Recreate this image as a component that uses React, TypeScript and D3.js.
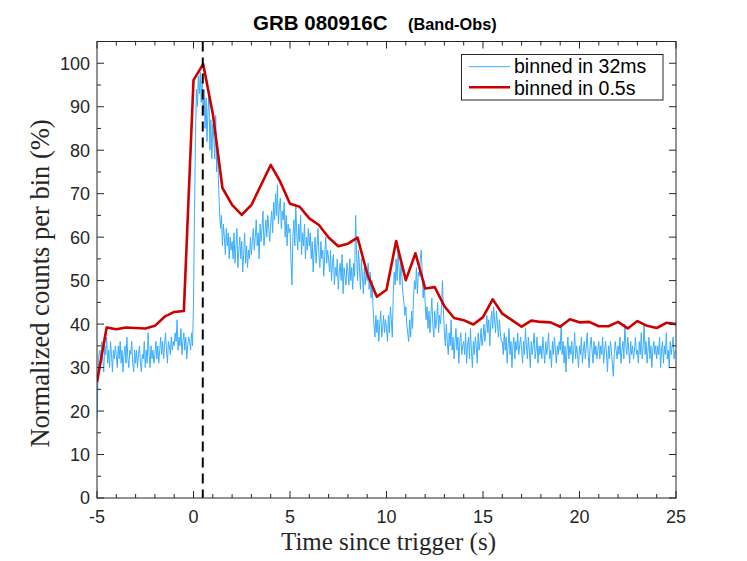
import * as d3 from "d3";
import React from "react";

// 0.5 s bins, one value every half second from -5 s to 25 s
const coarseStart = -5;
const coarseStep = 0.5;
const coarseCounts = [
  26.7, 39.2, 38.8, 39.2, 39.1, 39.0, 39.6, 41.7, 42.8, 43.0,
  96.1, 99.8, 88.4, 71.3, 67.4, 65.1, 67.4, 72.0, 76.6, 72.7,
  67.7, 67.0, 64.3, 62.8, 59.9, 57.9, 58.5, 59.9, 51.6, 46.3,
  47.9, 59.1, 50.1, 56.3, 48.2, 48.5, 44.1, 41.4, 40.9, 39.9,
  41.6, 45.7, 42.4, 40.9, 39.4, 40.8, 40.5, 40.4, 39.4, 41.1,
  40.4, 40.5, 39.5, 39.5, 40.5, 39.0, 40.7, 39.6, 39.1, 40.3,
  40.0,
];

// fine light curve, one row per second
const fineStart = -5;
const fineStep = 0.05;
const fineCounts = [
  18, 27, 33, 34, 31, 36, 32, 29, 35, 33, 37, 31, 34, 30, 36, 33, 29, 34, 32, 35,
  33, 30, 35, 32, 36, 31, 34, 29, 33, 35, 31, 37, 32, 30, 34, 33, 36, 31, 29, 34,
  31, 34, 30, 33, 35, 31, 29, 33, 32, 36, 30, 34, 31, 38, 33, 30, 35, 32, 34, 31,
  33, 36, 32, 35, 31, 34, 37, 33, 36, 32, 35, 38, 34, 31, 36, 35, 33, 37, 34, 36,
  35, 38, 36, 41, 34, 37, 35, 39, 33, 36, 38, 34, 37, 32, 35, 37, 36, 34, 38, 35,
  45, 65, 82, 94, 90, 97, 93, 98, 91, 96, 88, 94, 85, 92, 82, 89, 93, 80, 87, 78,
  86, 83, 78, 88, 75, 80, 72, 66, 62, 65, 58, 63, 60, 56, 62, 58, 61, 55, 60, 57,
  59, 55, 61, 54, 58, 62, 53, 57, 60, 55, 59, 52, 56, 61, 54, 58, 53, 57, 55, 60,
  56, 59, 62, 57, 60, 64, 58, 61, 55, 63, 59, 62, 66, 58, 61, 64, 60, 65, 62, 59,
  63, 66, 61, 68, 64, 70, 65, 72, 63, 67, 69, 62, 66, 64, 68, 60, 65, 58, 63, 61,
  62, 55, 49, 60, 64, 58, 67, 61, 57, 63, 59, 65, 56, 61, 58, 63, 55, 60, 57, 62,
  58, 61, 55, 59, 52, 57, 60, 54, 58, 62, 56, 53, 59, 55, 57, 51, 56, 60, 54, 57,
  55, 52, 57, 50, 54, 56, 49, 53, 51, 55, 48, 52, 54, 50, 56, 47, 53, 51, 49, 54,
  52, 49, 55, 50, 53, 48, 54, 51, 65, 56, 50, 57, 53, 48, 55, 51, 47, 53, 49, 52,
  50, 54, 48, 52, 46, 50, 44, 40, 37, 42, 38, 41, 36, 40, 43, 37, 39, 42, 38, 41,
  39, 36, 42, 38, 44, 41, 37, 47, 52, 49, 55, 50, 57, 53, 49, 54, 51, 47, 45, 42,
  44, 40, 38, 36, 41, 37, 43, 39, 46, 50, 48, 53, 47, 52, 51, 55, 57, 52, 46, 50,
  45, 41, 44, 39, 43, 38, 42, 46, 40, 37, 43, 39, 41, 45, 38, 42, 40, 44, 50, 43,
  38, 35, 40, 36, 33, 38, 35, 41, 34, 37, 32, 36, 39, 34, 37, 31, 36, 38, 33, 35,
  36, 33, 38, 31, 35, 37, 32, 39, 34, 30, 36, 33, 37, 35, 31, 38, 34, 36, 39, 35,
  37, 40, 36, 39, 42, 38, 41, 35, 40, 43, 39, 44, 41, 38, 43, 40, 37, 41, 38, 36,
  36, 33, 38, 34, 37, 31, 35, 39, 33, 36, 30, 35, 37, 32, 36, 34, 38, 33, 35, 37,
  34, 31, 36, 33, 39, 35, 32, 37, 34, 30, 36, 33, 35, 38, 32, 34, 37, 31, 35, 33,
  35, 32, 37, 34, 31, 36, 33, 35, 38, 32, 34, 30, 36, 33, 37, 34, 31, 35, 33, 36,
  34, 40, 33, 36, 31, 35, 29, 34, 37, 32, 35, 33, 36, 31, 34, 38, 32, 35, 33, 30,
  35, 33, 37, 31, 34, 36, 32, 35, 38, 33, 30, 35, 37, 34, 31, 36, 33, 35, 32, 34,
  36, 32, 35, 33, 37, 31, 34, 36, 33, 29, 35, 32, 36, 34, 31, 28, 33, 36, 34, 32,
  35, 33, 37, 31, 34, 36, 32, 40, 35, 33, 37, 34, 31, 36, 33, 35, 32, 34, 37, 33,
  34, 31, 36, 33, 38, 32, 35, 40, 33, 36, 31, 34, 37, 32, 35, 30, 34, 36, 33, 35,
  32, 35, 33, 37, 30, 34, 36, 31, 35, 33, 38, 32, 34, 30, 36, 33, 35, 37, 32, 34,
];

const triggerPeak = 0.48;
const xTicks = [-5, 0, 5, 10, 15, 20, 25];
const yTicks = [0, 10, 20, 30, 40, 50, 60, 70, 80, 90, 100];
const legendLabels = ["binned in 32ms", "binned in 0.5s"];

const W = 747;
const H = 561;
const left = 97;
const right = 676;
const top = 41.5;
const bottom = 498;

const blue = "#3aadff";
const red = "#cc0000";
const axisColor = "#262626";
const sans = "'Liberation Sans', Arial, Helvetica, sans-serif";
const serif = "'Liberation Serif', 'Times New Roman', serif";

export default function App() {
  const x = d3.scaleLinear().domain([-5, 25]).range([left, right]);
  const y = d3.scaleLinear().domain([0, 105]).range([bottom, top]);

  const finePath = d3
    .line<number>()
    .x((_, i) => x(fineStart + i * fineStep))
    .y((d) => y(d))(fineCounts);
  const coarsePath = d3
    .line<number>()
    .x((_, i) => x(coarseStart + i * coarseStep))
    .y((d) => y(d))(coarseCounts);

  const xMinor = d3.range(-5, 25.01, 1);
  const yMinor = d3.range(0, 105.01, 5);

  return (
    <svg width={W} height={H} style={{ position: "absolute", left: 0, top: 0, background: "#fff" }}>
      <rect width={W} height={H} fill="#fff" />
      <defs>
        <clipPath id="plot">
          <rect x={left} y={top} width={right - left} height={bottom - top} />
        </clipPath>
      </defs>

      <g clipPath="url(#plot)">
        <path d={finePath!} fill="none" stroke={blue} strokeWidth={1} strokeLinejoin="round" />
        <path d={coarsePath!} fill="none" stroke={red} strokeWidth={2.6} strokeLinejoin="round" />
        <line
          x1={x(triggerPeak)}
          x2={x(triggerPeak)}
          y1={top}
          y2={bottom}
          stroke="#000"
          strokeWidth={2}
          strokeDasharray="10,6"
        />
      </g>

      {/* ticks, pointing inward on all four sides */}
      <g stroke={axisColor} strokeWidth={1}>
        {xMinor.map((t) => {
          const major = t % 5 === 0;
          const len = major ? 7 : 4;
          return (
            <g key={"xt" + t}>
              <line x1={x(t)} x2={x(t)} y1={bottom} y2={bottom - len} />
              <line x1={x(t)} x2={x(t)} y1={top} y2={top + len} />
            </g>
          );
        })}
        {yMinor.map((v) => {
          const major = v % 10 === 0;
          const len = major ? 7 : 4;
          return (
            <g key={"yt" + v}>
              <line x1={left} x2={left + len} y1={y(v)} y2={y(v)} />
              <line x1={right} x2={right - len} y1={y(v)} y2={y(v)} />
            </g>
          );
        })}
      </g>
      <rect
        x={left}
        y={top}
        width={right - left}
        height={bottom - top}
        fill="none"
        stroke={axisColor}
        strokeWidth={1}
      />

      <g fontFamily={sans} fontSize={18} fill={axisColor}>
        {xTicks.map((t) => (
          <text key={"xl" + t} x={x(t)} y={522.5} textAnchor="middle">
            {t}
          </text>
        ))}
        {yTicks.map((v) => (
          <text key={"yl" + v} x={90} y={y(v)} dy="0.36em" textAnchor="end">
            {v}
          </text>
        ))}
      </g>

      <text x={388.5} y={550} textAnchor="middle" fontFamily={serif} fontSize={25} fill={axisColor}>
        Time since trigger (s)
      </text>
      <text
        transform="translate(49,283.5) rotate(-90)"
        textAnchor="middle"
        fontFamily={serif}
        fontSize={26.5}
        fill={axisColor}
      >
        Normalized counts per bin (%)
      </text>

      <g fontFamily={sans} fontWeight="bold" fill="#000">
        <text x={253} y={30} fontSize={20.5}>
          GRB 080916C
        </text>
        <text x={408} y={30} fontSize={16.3}>
          (Band-Obs)
        </text>
      </g>

      <g>
        <rect x={461.5} y={54.5} width={201.5} height={45.5} fill="#fff" stroke={axisColor} strokeWidth={1} />
        <line x1={469} x2={510} y1={66.7} y2={66.7} stroke={blue} strokeWidth={1} />
        <line x1={469} x2={510} y1={87.3} y2={87.3} stroke={red} strokeWidth={2.6} />
        <text x={514} y={72.6} fontFamily={sans} fontSize={19.5} fill="#000">
          {legendLabels[0]}
        </text>
        <text x={514} y={94.6} fontFamily={sans} fontSize={19.5} fill="#000">
          {legendLabels[1]}
        </text>
      </g>
    </svg>
  );
}
